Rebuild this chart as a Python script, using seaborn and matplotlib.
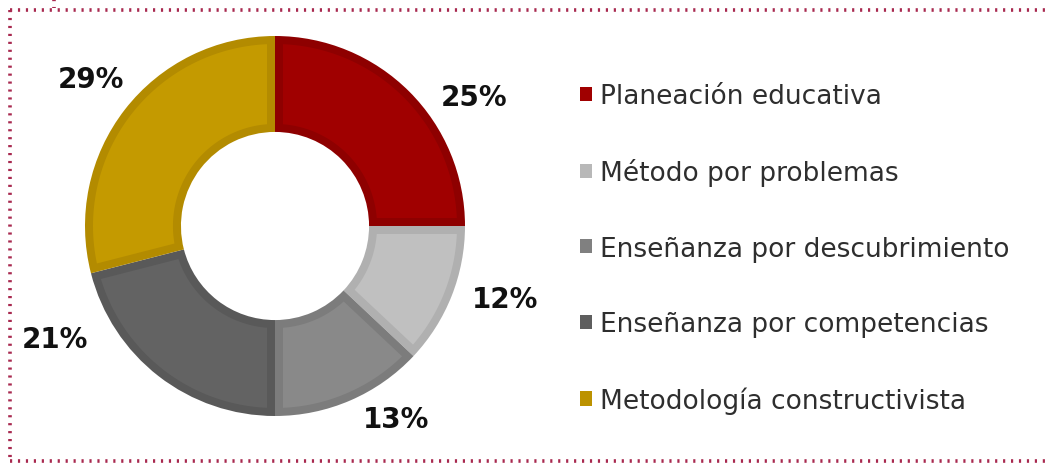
import numpy as np
import matplotlib
matplotlib.use("Agg")
import matplotlib.pyplot as plt
from matplotlib.patches import Patch, Polygon
from matplotlib.lines import Line2D
import seaborn as sns

categories = ["Planeación educativa", "Método por problemas", "Enseñanza por descubrimiento",
              "Enseñanza por competencias", "Metodología constructivista"]
values = [25, 12, 13, 21, 29]
labels = ["25%", "12%", "13%", "21%", "29%"]

fill_colors = ["#A00000", "#C0C0C0", "#898989", "#636363", "#C49A00"]
edge_colors = ["#8E0000", "#B0B0B0", "#7C7C7C", "#595959", "#B38B00"]
legend_colors = ["#A00000", "#B8B8B8", "#808080", "#5E5E5E", "#BC9200"]

# label placement tweaks (degrees offset from wedge mid-angle, radius)
label_dang = [-12, 4, 8.6, -25, -0.7]
label_rad = [1.25, 1.27, 1.20, 1.30, 1.24]

sns.set_theme(style="white")
plt.rcParams['font.family'] = ['DejaVu Sans']

W, H = 1046, 464
dpi = 100
fig = plt.figure(figsize=(W / dpi, H / dpi), dpi=dpi)

R = 190.0
cx, cy = 275.0, H - 227.0
ax = fig.add_axes([0, 0, 550 / W, 1])
ring = 0.505
wedges, _ = ax.pie(values, colors=edge_colors, startangle=90, counterclock=False,
                   radius=1.0, wedgeprops=dict(width=ring, linewidth=0), normalize=True)
ax.set_aspect("auto")
ax.set_xlim(-cx / R, (550 - cx) / R)
ax.set_ylim(-cy / R, (H - cy) / R)
ax.axis("off")

# inner (lighter) fill inset by a constant border width
d = 8.0 / R
r_out, r_in = 1.0 - d, 1.0 - ring + d
for w, fcol in zip(wedges, fill_colors):
    t1, t2 = np.deg2rad(w.theta1), np.deg2rad(w.theta2)
    ao, ai = np.arcsin(d / r_out), np.arcsin(d / r_in)
    to = np.linspace(t1 + ao, t2 - ao, 120)
    ti = np.linspace(t2 - ai, t1 + ai, 120)
    pts = np.concatenate([np.c_[r_out * np.cos(to), r_out * np.sin(to)],
                          np.c_[r_in * np.cos(ti), r_in * np.sin(ti)]])
    ax.add_patch(Polygon(pts, closed=True, facecolor=fcol, edgecolor="none"))

for w, lab, da, rr in zip(wedges, labels, label_dang, label_rad):
    mid = np.deg2rad((w.theta1 + w.theta2) / 2 + da)
    ax.text(rr * np.cos(mid), rr * np.sin(mid), lab, ha="center", va="center",
            fontsize=20, fontweight="bold", color="#111111")

handles = [Patch(facecolor=c, edgecolor="none") for c in legend_colors]
leg = fig.legend(handles, categories, loc="upper left",
                 bbox_to_anchor=(580 / W, 1 - 84 / H), frameon=False,
                 fontsize=19, handlelength=0.45, handleheight=0.45,
                 handletextpad=0.3, labelspacing=1.87, borderaxespad=0, borderpad=0)
for t in leg.get_texts():
    t.set_color("#2E2E2E")

fc = "#A8294F"
kw = dict(transform=fig.transFigure, color=fc, linestyle=(0, (0.6, 1.6)),
          linewidth=2.6, dash_capstyle="butt")
def fx(x): return x / W
def fy(y): return 1 - y / H
fig.add_artist(Line2D([fx(10), fx(1046)], [fy(11), fy(11)], **kw))
fig.add_artist(Line2D([fx(10), fx(10)], [fy(11), fy(462)], **kw))
fig.add_artist(Line2D([fx(10), fx(1046)], [fy(462), fy(462)], **kw))
fig.add_artist(Line2D([fx(54), fx(54)], [fy(0), fy(9)], **kw))

fig.savefig("out.png", dpi=dpi, facecolor="white")
